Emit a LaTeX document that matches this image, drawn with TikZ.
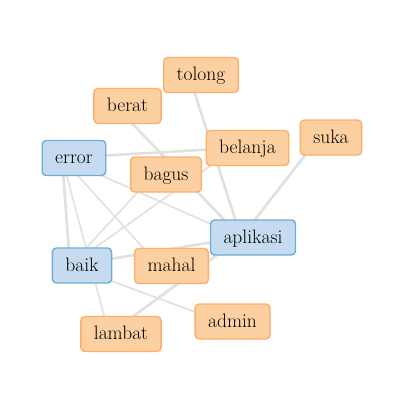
\documentclass[tikz,border=0pt]{standalone}
\usepackage{tikz}
\usetikzlibrary{ backgrounds, % For drawing the links behind the words
               }
\definecolor{orfill}{HTML}{FDD0A2}
\definecolor{ordraw}{HTML}{FDAE6B}
\definecolor{blfill}{HTML}{C6DBEF}
\definecolor{bldraw}{HTML}{6BAED6}
\definecolor{linkgray}{HTML}{E0E0E0}

\begin{document}
\begin{tikzpicture}[x=1pt, y=-1pt,
    word/.style={rounded corners=4pt, line width=1.4pt, minimum height=35pt,
                 inner xsep=13pt, inner ysep=0pt, text height=15pt, text depth=4pt,
                 font=\fontsize{19.5}{23}\selectfont},
    orword/.style={word, draw=ordraw, fill=orfill},
    blword/.style={word, draw=bldraw, fill=blfill},
    link/.style={draw=linkgray, line width=2.6pt},
    thinlink/.style={draw=linkgray, line width=1.6pt}]
    \useasboundingbox (0,0) rectangle (404,410);
    \node[orword] (tolong) at (201,75) {tolong};
    \node[orword] (berat) at (127.5,106) {berat};
    \node[blword] (error) at (74,158) {error};
    \node[orword] (bagus) at (166,174.5) {bagus};
    \node[orword] (belanja) at (247.5,148) {belanja};
    \node[orword] (suka) at (331,137.5) {suka};
    \node[blword] (aplikasi) at (253,237.5) {aplikasi};
    \node[blword] (baik) at (82,265.5) {baik};
    \node[orword] (mahal) at (171.5,266) {mahal};
    \node[orword] (admin) at (232.5,321.5) {admin};
    \node[orword] (lambat) at (121,334) {lambat};
    \begin{scope}[on background layer]
      \draw[link] ([xshift=-12pt]tolong.center) -- ([xshift=-12pt]aplikasi.center);
      \draw[link] ([xshift=-12pt]berat.center) -- ([xshift=-12pt]aplikasi.center);
      \draw[link] ([xshift=-12pt]suka.center) -- ([xshift=-12pt]aplikasi.center);
      \draw[link] ([xshift=-12pt]lambat.center) -- ([xshift=-12pt]aplikasi.center);
      \draw[link] ([xshift=-12pt]baik.center) -- ([xshift=-12pt]aplikasi.center);
      \draw[link] ([xshift=-12pt]error.center) -- ([xshift=-12pt]belanja.center);
      \draw[link] ([xshift=-12pt]error.center) -- ([xshift=-12pt]baik.center);
      \draw[thinlink] ([xshift=-12pt]error.center) -- ([xshift=-12pt]lambat.center);
      \draw[thinlink] ([xshift=-12pt]error.center) -- ([xshift=-12pt]mahal.center);
      \draw[thinlink] ([xshift=-12pt]error.center) -- ([xshift=-12pt]aplikasi.center);
      \draw[thinlink] ([xshift=-12pt]baik.center) -- ([xshift=-12pt]bagus.center);
      \draw[thinlink] ([xshift=-12pt]baik.center) -- ([xshift=-12pt]belanja.center);
      \draw[thinlink] ([xshift=-12pt]baik.center) -- ([xshift=-12pt]admin.center);
    \end{scope}
  \end{tikzpicture}
\end{document}
